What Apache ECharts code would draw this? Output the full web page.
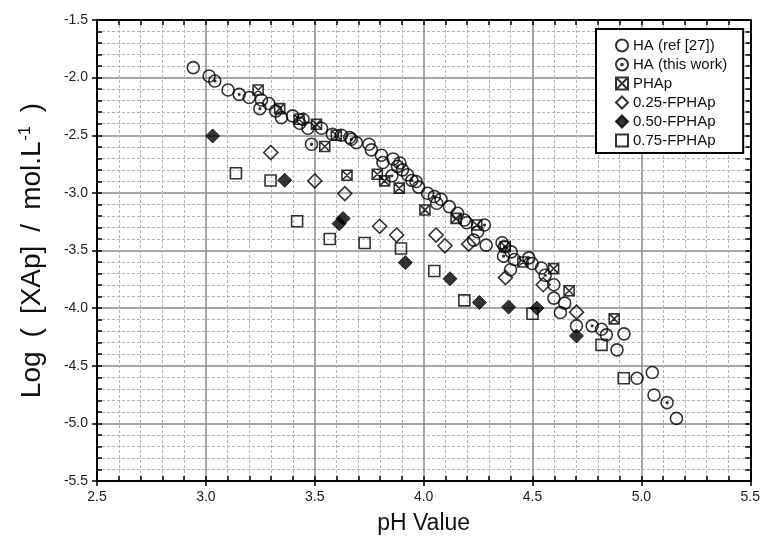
<!DOCTYPE html>
<html>
<head>
<meta charset="utf-8">
<script src="https://cdn.jsdelivr.net/npm/echarts@6/dist/echarts.min.js"></script>
<style>
html,body{margin:0;padding:0;background:#fff;}
#chart{width:763px;height:545px;}
</style>
</head>
<body>
<div id="chart"></div>
<script>
// ---- Data (pH, log[XAp]) ----
const seriesNames = ['HA (ref [27])', 'HA (this work)', 'PHAp', '0.25-FPHAp', '0.50-FPHAp', '0.75-FPHAp'];

const haRef = [
  [2.942,-1.913],[3.015,-1.986],[3.102,-2.107],[3.199,-2.173],[3.255,-2.194],[3.289,-2.225],
  [3.321,-2.289],[3.347,-2.347],[3.398,-2.332],[3.446,-2.361],[3.431,-2.396],[3.469,-2.439],
  [3.531,-2.439],[3.581,-2.491],[3.622,-2.500],[3.661,-2.520],[3.691,-2.564],[3.749,-2.578],
  [3.760,-2.627],[3.806,-2.673],[3.813,-2.737],[3.860,-2.706],[3.891,-2.741],[3.903,-2.800],
  [3.926,-2.843],[3.965,-2.901],[3.977,-2.950],[4.018,-3.003],[4.080,-3.055],[4.060,-3.090],
  [4.118,-3.119],[4.156,-3.177],[4.187,-3.235],[4.198,-3.259],[4.248,-3.337],[4.230,-3.410],
  [4.287,-3.453],[4.360,-3.433],[4.402,-3.512],[4.417,-3.578],[4.399,-3.667],[4.498,-3.613],
  [4.541,-3.652],[4.598,-3.797],[4.598,-3.913],[4.648,-3.957],[4.628,-4.038],[4.702,-4.154],
  [4.817,-4.183],[4.839,-4.232],[4.920,-4.223],[4.888,-4.362],[4.980,-4.609],[5.050,-4.559],
  [5.058,-4.754],[5.161,-4.957]
];
const haWork = [
  [3.041,-2.029],[3.153,-2.145],[3.248,-2.269],[3.485,-2.578],[3.668,-2.535],[3.854,-2.852],
  [3.880,-2.770],[3.946,-2.892],[4.049,-3.032],[4.279,-3.279],[4.371,-3.468],[4.367,-3.549],
  [4.483,-3.564],[4.558,-3.715],[4.774,-4.154],[5.118,-4.820]
];
const phap = [
  [3.240,-2.107],[3.339,-2.269],[3.428,-2.361],[3.508,-2.405],[3.546,-2.598],[3.599,-2.500],
  [3.648,-2.847],[3.787,-2.838],[3.821,-2.896],[3.888,-2.959],[4.006,-3.148],[4.149,-3.221],
  [4.244,-3.279],[4.375,-3.465],[4.456,-3.600],[4.597,-3.657],[4.668,-3.849],[4.875,-4.093]
];
const fphap25 = [
  [3.298,-2.650],[3.500,-2.896],[3.638,-3.006],[3.798,-3.290],[3.876,-3.366],[4.057,-3.366],
  [4.098,-3.459],[4.207,-3.445],[4.376,-3.735],[4.549,-3.797],[4.702,-4.035]
];
const fphap50 = [
  [3.031,-2.506],[3.362,-2.890],[3.612,-3.267],[3.630,-3.223],[3.916,-3.605],[4.121,-3.745],
  [4.256,-3.951],[4.390,-3.991],[4.520,-4.000],[4.702,-4.241]
];
const fphap75 = [
  [3.138,-2.830],[3.297,-2.892],[3.419,-3.246],[3.569,-3.400],[3.729,-3.435],[3.896,-3.483],
  [4.049,-3.678],[4.187,-3.933],[4.500,-4.049],[4.817,-4.319],[4.919,-4.609]
];

const xMin = 2.5, xMax = 5.5, xStep = 0.5;
const yMin = -5.5, yMax = -1.5, yStep = 0.5;

// ---- Chart ----
const FONT = "'Liberation Sans', Arial, sans-serif";
const pathCircDot = 'path://M10,0 A10,10 0 1,1 10,20 A10,10 0 1,1 10,0 Z M10,8.6 A1.4,1.4 0 1,1 10,11.4 A1.4,1.4 0 1,1 10,8.6 Z';
const pathSqX = 'path://M0,0 L20,0 L20,20 L0,20 Z M0,0 L20,20 M20,0 L0,20';

const hollow = {color: 'rgba(0,0,0,0)', borderColor: '#000', borderWidth: 1.6};
const fmt = v => Number(v).toFixed(1);

function minorAxis(pos, isX, withLine) {
  return {
    type: 'value', position: pos,
    min: isX ? xMin : yMin, max: isX ? xMax : yMax, interval: 0.1,
    axisLine: {show: !!withLine, onZero: false, lineStyle: {color: '#000', width: 2}},
    axisTick: {show: true, inside: true, length: 5, lineStyle: {color: '#000', width: 1.5}},
    axisLabel: {show: false},
    splitLine: {show: false}
  };
}

const yName = '{a|Log}{s| }{a|(}{s| }{a|[XAp]}{s| }{a|/}{s| }{a|mol.L}{sup|-1}{s| }{a|)}';

const chart = echarts.init(document.getElementById('chart'), null, {renderer: 'canvas'});
chart.setOption({
  animation: false,
  backgroundColor: '#fff',
  textStyle: {fontFamily: FONT},
  grid: {left: 97, right: 12, top: 20, bottom: 64},
  legend: {
    orient: 'vertical', left: 596, top: 29,
    backgroundColor: '#fff', borderColor: '#000', borderWidth: 2,
    padding: [9, 16, 5, 19],
    itemWidth: 12, itemHeight: 12, itemGap: 4,
    textStyle: {fontSize: 15, color: '#111', fontFamily: FONT, lineHeight: 14},
    data: seriesNames
  },
  xAxis: [
    {
      type: 'value', position: 'bottom', min: xMin, max: xMax, interval: xStep,
      name: 'pH Value', nameLocation: 'middle', nameGap: 31,
      nameTextStyle: {fontSize: 23, color: '#111', fontFamily: FONT},
      axisLine: {show: true, onZero: false, lineStyle: {color: '#000', width: 2}},
      axisTick: {show: true, inside: false, length: 5, lineStyle: {color: '#000', width: 1.5}},
      axisLabel: {fontSize: 14, color: '#222', margin: 9, formatter: fmt},
      splitLine: {show: true, lineStyle: {color: '#8a8a8a', width: 1.5}},
      minorTick: {show: false, splitNumber: 5},
      minorSplitLine: {show: true, lineStyle: {color: '#b4b4b4', width: 1, type: [3, 2]}}
    },
    minorAxis('bottom', true, false),
    minorAxis('top', true, true)
  ],
  yAxis: [
    {
      type: 'value', position: 'left', min: yMin, max: yMax, interval: yStep,
      name: yName, nameLocation: 'middle', nameGap: 50,
      nameRotate: 90,
      nameTextStyle: {fontSize: 28, color: '#111', fontFamily: FONT,
        rich: {
          a: {fontSize: 28, color: '#111', fontFamily: FONT},
          s: {fontSize: 28, width: 14, fontFamily: FONT},
          sup: {fontSize: 16, verticalAlign: 'top', padding: [0, 0, 13, 1], color: '#111', fontFamily: FONT}
        }},
      axisLine: {show: true, onZero: false, lineStyle: {color: '#000', width: 2}},
      axisTick: {show: true, inside: false, length: 5, lineStyle: {color: '#000', width: 1.5}},
      axisLabel: {fontSize: 14, color: '#222', margin: 9, formatter: fmt},
      splitLine: {show: true, lineStyle: {color: '#8a8a8a', width: 1.5}},
      minorTick: {show: false, splitNumber: 5},
      minorSplitLine: {show: true, lineStyle: {color: '#b4b4b4', width: 1, type: [3, 2]}}
    },
    minorAxis('left', false, false),
    minorAxis('right', false, true)
  ],
  series: [
    {name: seriesNames[0], type: 'scatter', data: haRef, symbol: 'circle', symbolSize: 12, itemStyle: hollow},
    {name: seriesNames[1], type: 'scatter', data: haWork, symbol: pathCircDot, symbolSize: 12, itemStyle: hollow},
    {name: seriesNames[2], type: 'scatter', data: phap, symbol: pathSqX, symbolSize: 10, itemStyle: hollow},
    {name: seriesNames[3], type: 'scatter', data: fphap25, symbol: 'diamond', symbolSize: 14, itemStyle: hollow},
    {name: seriesNames[4], type: 'scatter', data: fphap50, symbol: 'diamond', symbolSize: 14, itemStyle: {color: '#000', borderColor: '#000', borderWidth: 1}},
    {name: seriesNames[5], type: 'scatter', data: fphap75, symbol: 'rect', symbolSize: 11, itemStyle: hollow}
  ]
});
</script>
</body>
</html>
